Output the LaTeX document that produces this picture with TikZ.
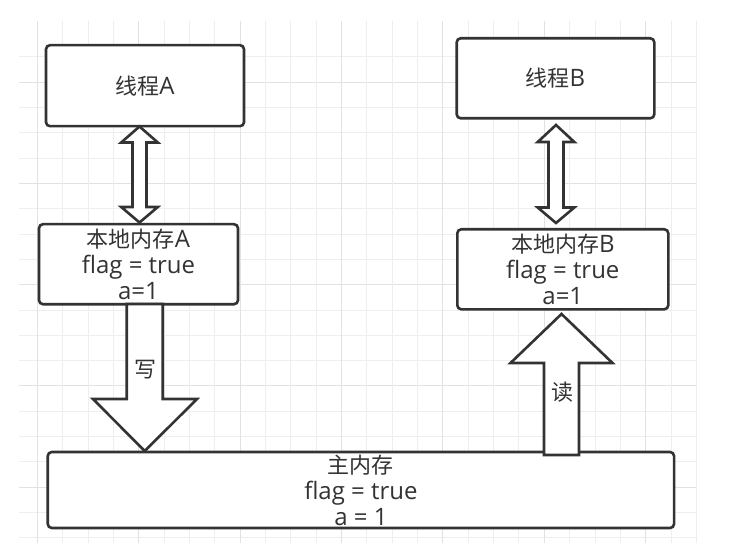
\documentclass[tikz,border=0pt]{standalone}
\usepackage{fontspec}
\setmainfont[Scale=1.09]{Open Sans}
\newfontfamily\cjk{Noto Sans CJK SC}
\usetikzlibrary{calc}
\definecolor{ink}{HTML}{333333}
\definecolor{gridminor}{HTML}{EEEEEE}
\definecolor{gridmajor}{HTML}{E2E2E2}
\begin{document}
\begin{tikzpicture}[x=1pt,y=-1pt,
  box/.style={draw=ink, line width=2.6pt, rounded corners=4pt, fill=white,
    text=ink, align=center, inner sep=0pt,
    font=\fontsize{22}{26}\selectfont},
  blockarrow/.style={draw=ink, line width=2.6pt, fill=white, line join=miter},
  lbl/.style={text=ink, font=\cjk\fontsize{22}{26}\selectfont, inner sep=0pt},
  gminor/.style={draw=gridminor, line width=1pt},
  gmajor/.style={draw=gridmajor, line width=1pt}]
\useasboundingbox (0,0) rectangle (731,556);
\fill[white] (0,0) rectangle (731,556);
% grid
\foreach \i in {0,...,19} {
  \pgfmathsetmacro\yy{56.7+25.33*\i}
  \pgfmathtruncatemacro\mm{mod(\i,4)}
  \ifnum\mm=1 \draw[gmajor] (19,\yy) -- (697,\yy);
  \else \draw[gminor] (19,\yy) -- (697,\yy); \fi
}
\foreach \i in {0,...,26} {
  \pgfmathsetmacro\xx{37.3+25.35*\i}
  \pgfmathtruncatemacro\mm{mod(\i,4)}
  \ifnum\mm=0 \draw[gmajor] (\xx,21) -- (\xx,543);
  \else \draw[gminor] (\xx,21) -- (\xx,543); \fi
}
% boxes
\node[box, minimum width=198pt, minimum height=81pt] (ta) at (145,85.7) {{\cjk 线程}A};
\node[box, minimum width=199pt, minimum height=80pt] (la) at (138.5,264.2) {{\cjk 本地内存}A\\flag = true\\a=1};
\node[box, minimum width=197.6pt, minimum height=80pt] (tb) at (555.5,78.3) {{\cjk 线程}B};
\node[box, minimum width=211pt, minimum height=80pt] (lb) at (562.8,269.3) {{\cjk 本地内存}B\\flag = true\\a=1};
\node[box, minimum width=626.3pt, minimum height=76pt] (mm) at (360.9,490) {{\cjk 主内存}\\flag = true\\a = 1};
% double arrows
\draw[blockarrow] (139.5,126.5) -- (157.8,142.5) -- (146.5,142.5) -- (146.5,207) -- (157.8,207) -- (139.5,222.5) -- (121.2,207) -- (132.5,207) -- (132.5,142.5) -- (121.2,142.5) -- cycle;
\draw[blockarrow] (556,125) -- (574.3,142) -- (563.5,142) -- (563.5,207.5) -- (574.3,207.5) -- (556,223) -- (537.7,207.5) -- (548.5,207.5) -- (548.5,142) -- (537.7,142) -- cycle;
% write arrow
\draw[blockarrow] (126.7,304) -- (126.7,399) -- (93,399) -- (144.7,451) -- (197,399) -- (162.7,399) -- (162.7,304) -- cycle;
% read arrow
\draw[blockarrow] (561.5,314) -- (612.5,363) -- (579,363) -- (579,455) -- (544,455) -- (544,363) -- (510.5,363) -- cycle;
\node[lbl] (lw) at (145,370) {写};
\node[lbl] (lr) at (562,392) {读};
\end{tikzpicture}
\end{document}
